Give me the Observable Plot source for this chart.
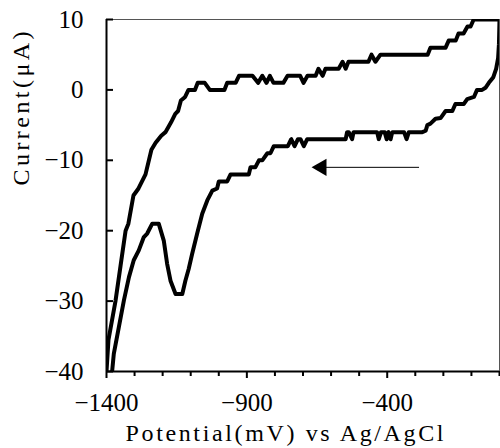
<!DOCTYPE html>
<html><head><meta charset="utf-8">
<script src="https://cdn.jsdelivr.net/npm/d3@7"></script>
<script src="https://cdn.jsdelivr.net/npm/@observablehq/plot@0.6"></script>
<style>body{margin:0;background:#fff}</style>
</head><body><div id="chart"></div>
<script>
// Forward (anodic) scan: -1400 mV -> 0 mV
const forwardE = [-1400,-1393,-1368,-1350,-1332,-1322,-1304,-1286,-1261,-1240,-1225,-1215,-1205,-1190,-1170,-1155,-1145,-1135,-1120,-1108,-1085,-1075,-1050,-1032,-980,-970,-940,-928,-880,-860,-845,-830,-818,-805,-770,-755,-710,-698,-684,-655,-645,-630,-620,-573,-559,-548,-538,-467,-456,-442,-424,-256,-246,-192,-181,-156,-146,-128,-114,-103,-92,-30,0];
const forwardI = [-40,-35.5,-30,-25,-20,-19,-15,-14,-12,-8.5,-7.5,-7,-6.5,-6,-4.6,-3.4,-3,-1.5,-1,0,0,1,1,0,0,1,1,2,2,1,2,1,2,1,1,2,2,1,2,2,3,2,3,3,4,3,4,4,5,4,5,5,6,6,7,7,8,8,9,9,10,10,10];
// Reverse (cathodic) scan: 0 mV -> -1400 mV
const reverseE = [-2,-5,-12,-22,-38,-50,-62,-80,-91,-115,-127,-157,-168,-192,-210,-228,-246,-257,-263,-275,-323,-331,-340,-382,-388,-396,-402,-409,-422,-430,-436,-520,-525,-537,-543,-548,-685,-697,-709,-718,-730,-742,-754,-804,-816,-827,-845,-857,-870,-887,-893,-958,-970,-1000,-1006,-1023,-1041,-1059,-1077,-1095,-1107,-1119,-1130,-1154,-1172,-1184,-1196,-1214,-1237,-1255,-1267,-1285,-1303,-1320,-1338,-1356,-1374,-1380];
const reverseI = [6.5,4.5,3,1.8,1,0.3,0,0,-1,-1.3,-2,-2,-3,-3,-4,-4.1,-4.8,-5,-5.8,-6,-6,-7,-6,-6,-7,-6,-7,-6,-6,-7,-6,-6,-7,-6,-6,-7,-7,-8,-7,-7,-8,-7,-8,-8,-9,-9,-10,-10,-11,-11,-12,-12,-13,-13,-14,-14.3,-15.7,-17.6,-20.4,-23.3,-25.4,-27.1,-29,-29,-27.1,-24.7,-21.4,-19,-19,-20.4,-20.9,-22.8,-24.2,-26.6,-29.9,-33.7,-37.5,-40];
// Scan direction arrow
const arrowE = [-288, -634];
const arrowI = [-11, -11];
// Ticks and labels
const xMajorTicks = [-1400, -900, -400];
const xMinorTicks = [-1300,-1200,-1100,-1000,-800,-700,-600,-500,-300,-200,-100,0];
const yTicks = [10, 0, -10, -20, -30, -40];
const xLabel = "Potential(mV) vs Ag/AgCl";
const yLabel = "Current(μA)";

const cv = [
  ...forwardE.map((E, i) => ({E, I: forwardI[i]})),
  ...reverseE.map((E, i) => ({E, I: reverseI[i]}))
];
const arrowLine = arrowE.map((E, i) => ({E, I: arrowI[i]}));
const fmt = d3.format("d");

const plot = Plot.plot({
  width: 500, height: 448,
  marginLeft: 106, marginRight: 1, marginTop: 19, marginBottom: 77,
  style: {fontFamily: "'Liberation Serif', serif", fontSize: "25px", color: "black", background: "white"},
  x: {domain: [-1400, 0], label: null},
  y: {domain: [-40, 10], label: null},
  marks: [
    Plot.frame({stroke: "#555", strokeWidth: 1}),
    Plot.axisY({ticks: yTicks, tickSize: 0, tickPadding: 23, fontSize: 25, tickFormat: fmt, label: null}),
    Plot.axisY({ticks: yTicks, tickSize: 7, dx: 7, strokeWidth: 2, tickFormat: () => "", label: null}),
    Plot.axisX({ticks: xMinorTicks, tickSize: 5, strokeWidth: 2, tickFormat: () => "", label: null}),
    Plot.axisX({ticks: xMajorTicks, tickSize: 7, tickPadding: 15, strokeWidth: 2, fontSize: 25, tickFormat: fmt, label: null}),
    Plot.ruleX([-1400], {strokeWidth: 2, stroke: "black"}),
    Plot.ruleY([-40], {strokeWidth: 2, stroke: "black"}),
    Plot.line(cv, {x: "E", y: "I", stroke: "black", strokeWidth: 4, strokeLinejoin: "round", strokeLinecap: "round", clip: true}),
    Plot.line(arrowLine, {x: "E", y: "I", stroke: "black", strokeWidth: 1}),
    Plot.dot([arrowLine[1]], {x: "E", y: "I", symbol: "triangle", r: 6.4, fill: "black", stroke: null, rotate: -90}),
    Plot.text([xLabel], {frameAnchor: "bottom", dx: -18.5, dy: 62, text: d => d, fontSize: 24, lineAnchor: "middle"}),
    Plot.text([yLabel], {frameAnchor: "left", dx: -85, dy: -10, rotate: -90, text: d => d, fontSize: 24, lineAnchor: "middle"})
  ]
});
document.getElementById("chart").appendChild(plot);
d3.select(plot).selectAll("text").filter(function(){ return this.textContent === xLabel; })
  .attr("textLength", 318).attr("lengthAdjust", "spacing");
d3.select(plot).selectAll("text").filter(function(){ return this.textContent === yLabel; })
  .attr("textLength", 154).attr("lengthAdjust", "spacing");
</script>
</body></html>
